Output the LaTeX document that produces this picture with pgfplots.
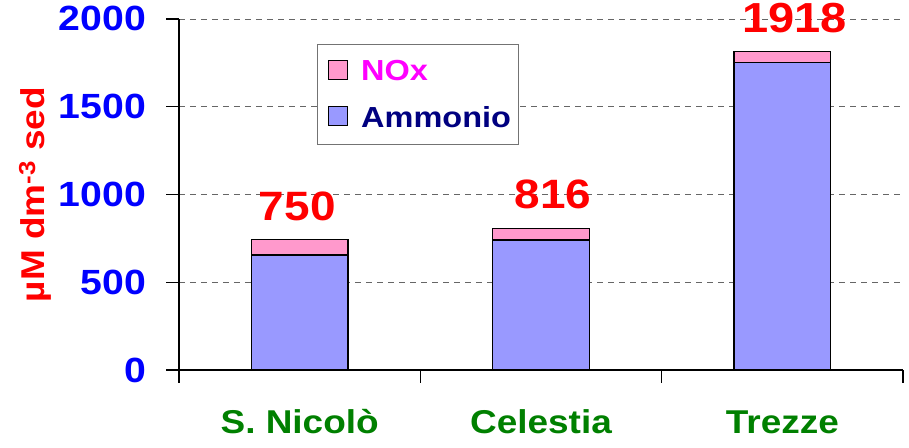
\documentclass[border=0pt]{standalone}
\usepackage{fontspec}
\setmainfont{Liberation Sans}[FakeStretch=1.12]
\usepackage{pgfplots}
\pgfplotsset{compat=1.18}
\definecolor{amm}{RGB}{153,153,255}
\definecolor{nox}{RGB}{255,153,204}
\definecolor{xgreen}{RGB}{0,128,0}
\definecolor{yblue}{RGB}{0,0,255}
\definecolor{navyb}{RGB}{0,0,128}
\definecolor{magb}{RGB}{255,0,255}
\begin{document}
\begin{tikzpicture}
\begin{axis}[
  scale only axis, width=724pt, height=351pt,
  xmin=-0.5, xmax=2.5, ymin=0, ymax=2000,
  ybar stacked, bar width=0.4,
  clip=false,
  axis x line*=bottom, axis y line*=left,
  axis line style={line width=1.3pt, black},
  tick style={line width=1.3pt, black},
  tick align=outside, major tick length=12.5pt,
  xtick={-0.5,0.5,1.5,2.5}, xticklabels={},
  extra x ticks={0,1,2},
  extra x tick labels={S. Nicolò, Celestia, Trezze},
  extra x tick style={major tick length=0pt, grid=none,
     xticklabel style={anchor=base, yshift=-63pt}},
  xticklabel style={font=\fontsize{33}{38}\selectfont\bfseries, text=xgreen},
  ytick={0,500,1000,1500,2000},
  yticklabels={0,500,1000,1500,2000},
  yticklabel style={font=\fontsize{35}{40}\selectfont\bfseries, text=yblue, anchor=base east, yshift=-12pt, xshift=-17pt},
  ymajorgrids, grid style={dash pattern=on 6pt off 5pt, gray!80!black, line width=0.9pt},
  ylabel={µM dm\textsuperscript{-3} sed},
  every axis y label/.style={at={(axis description cs:-0.199,0.5)}, rotate=90, anchor=center,
     font=\fontsize{33}{38}\selectfont\bfseries, text=red},
  legend style={at={(rel axis cs:0.19,0.929)}, anchor=north west, draw=gray!90!black, line width=0.8pt,
     fill=white, font=\fontsize{29}{34}\selectfont\bfseries, row sep=20pt,
     inner xsep=5pt, inner ysep=14pt,
     /tikz/every odd column/.append style={column sep=11pt}},
  legend cell align=left, reverse legend,
  legend image code/.code={\path (0pt,0pt); \draw[#1, line width=1.2pt] (6pt,-8pt) rectangle (25pt,11pt);},
]
\addplot[fill=amm, draw=black, line width=1.3pt] coordinates {(0,655) (1,741) (2,1751)};
\addlegendentry{\textcolor{navyb}{Ammonio}}
\addplot[fill=nox, draw=black, line width=1.3pt] coordinates {(0,90) (1,66) (2,63)};
\addlegendentry{\textcolor{magb}{NOx}}
\node[font=\fontsize{41}{46}\selectfont\bfseries, text=red] at (axis cs:-0.01,934) {750};
\node[font=\fontsize{41}{46}\selectfont\bfseries, text=red] at (axis cs:1.05,1003) {816};
\node[font=\fontsize{42}{47}\selectfont\bfseries, text=red] at (axis cs:2.05,2006) {1918};
\end{axis}
\pgfresetboundingbox
\useasboundingbox (-179pt,-77pt) rectangle (730pt,370pt);
\end{tikzpicture}
\end{document}
